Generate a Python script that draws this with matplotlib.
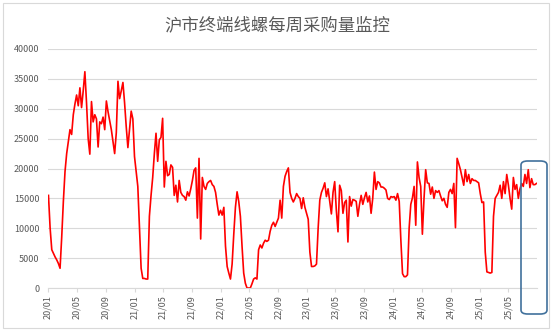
import numpy as np
import pandas as pd
import matplotlib
matplotlib.use('Agg')
import matplotlib.pyplot as plt
import matplotlib.dates as mdates
from matplotlib.patches import FancyBboxPatch

plt.rcParams['font.family'] = ['Noto Sans CJK SC', 'DejaVu Sans']

TITLE = '沪市终端线螺每周采购量监控'

# weekly purchase volume
v2020 = [15500, 10000, 6400, 5800, 5200, 4700, 4100, 3300, 8500, 14500,
         19500, 22500, 24500, 26500, 25700, 29000, 30800, 32300, 30500, 33500,
         30200, 33000, 36200, 31000, 25000, 22400, 31200, 27800, 29000, 28300,
         23600, 27800, 27500, 28600, 26500, 31300, 29500, 28000, 26500, 24500,
         22500, 26000, 34600, 31700, 33000, 34400, 31000, 27000, 23500, 26500,
         29600, 28300]
v2021 = [22000, 19500, 17000, 10000, 3300, 1600, 1600, 1500, 1500, 12000,
         15500, 18500, 22500, 25900, 21200, 24800, 25200, 28400, 16900, 21200,
         18800, 19000, 20600, 20200, 15500, 17200, 14400, 18000, 16000, 15500,
         15300, 14700, 16100, 15400, 16600, 18000, 19700, 20100, 11700, 21700,
         8200, 18500, 17000, 16500, 17500, 17800, 18000, 17300, 17000, 16000,
         14000, 12200]
v2022 = [13000, 12200, 13500, 7000, 3600, 2500, 1500, 4000, 9000, 13500,
         16100, 14500, 12000, 7000, 2500, 800, 0, 0, 0, 700,
         1500, 1700, 1500, 6400, 7200, 6700, 7500, 8000, 7800, 8000,
         9500, 10500, 11000, 10300, 11000, 11700, 14700, 11700, 17000, 18700,
         19500, 20100, 16000, 15000, 14400, 15000, 15800, 15300, 15000, 13300,
         15100, 13500]
v2023 = [12500, 11500, 6000, 3600, 3600, 3700, 4000, 10000, 14700, 16000,
         16700, 17600, 15300, 16600, 14500, 12400, 16000, 17800, 13000, 9400,
         17200, 16300, 12500, 14300, 14700, 7700, 15300, 13700, 14800, 14700,
         14500, 12000, 14000, 15500, 14000, 15100, 16000, 14400, 15400, 12500,
         15000, 19400, 16500, 17800, 17600, 16900, 16900, 16700, 16400, 15000,
         14800, 15300]
v2024 = [15200, 15300, 14700, 15800, 14500, 8000, 2400, 1900, 1900, 2200,
         10000, 14000, 15100, 17000, 10500, 21100, 18500, 17000, 9000, 15000,
         19800, 17600, 17500, 15700, 16900, 15000, 16300, 16000, 16300, 15400,
         14600, 15000, 14000, 13500, 16000, 16500, 15800, 17500, 10100, 21700,
         20800, 19800, 18500, 17200, 19800, 17800, 19000, 17500, 18300, 18000,
         18000, 17800]
v2025 = [17600, 15800, 14300, 14400, 6000, 2700, 2600, 2500, 2600, 12000,
         15000, 15500, 16000, 17200, 15000, 17800, 15800, 19000, 17200, 15000,
         13200, 18500, 16500, 17300, 15000, 16600, 17500, 17000, 19000, 17500,
         19800, 16800, 18300, 17300, 17300, 17500]

values = v2020 + v2021 + v2022 + v2023 + v2024 + v2025
dates = pd.date_range('2020-01-03', periods=len(values), freq='W-FRI')

GRAY = '#595959'
W, H = 555, 332

fig = plt.figure(figsize=(W / 100, H / 100), dpi=100)
fig.patch.set_facecolor('white')

# chart-area border
fig.add_artist(plt.Rectangle((3 / W, 4 / H), 546 / W, 325 / H, transform=fig.transFigure,
                             fill=False, ec='#D9D9D9', lw=0.8))

ax = fig.add_axes([48 / W, (H - 288) / H, (537 - 48) / W, (288 - 49) / H])
ax.plot(dates, values, color='#FF0000', lw=1.2, solid_joinstyle='round')

ax.set_ylim(0, 40000)
ax.set_yticks(np.arange(0, 40001, 5000))
ax.set_xlim(pd.Timestamp('2020-01-01'), pd.Timestamp('2025-08-31'))
ax.xaxis.set_major_locator(mdates.MonthLocator(bymonth=[1, 5, 9]))
ax.xaxis.set_major_formatter(mdates.DateFormatter('%y/%m'))
plt.setp(ax.get_xticklabels(), rotation=90)

ax.grid(axis='y', color='#D9D9D9', lw=0.8)
ax.set_axisbelow(True)
for s in ['top', 'right', 'left']:
    ax.spines[s].set_visible(False)
ax.spines['bottom'].set_color('#D9D9D9')
ax.spines['bottom'].set_linewidth(0.8)
ax.tick_params(axis='y', length=0, labelsize=6.5, labelcolor=GRAY, pad=6)
ax.tick_params(axis='x', length=3, color='#D9D9D9', labelsize=6.5, labelcolor=GRAY, pad=2)

fig.text(0.5, (H - 25) / H, TITLE, ha='center', va='center', fontsize=12.5, color=GRAY)

# highlight box on the latest weeks
box = FancyBboxPatch((521 / W, (H - 314) / H), 26 / W, 153 / H,
                     boxstyle='round,pad=0,rounding_size=0.012',
                     transform=fig.transFigure, fill=False, ec='#41719C', lw=1.2)
fig.add_artist(box)

fig.savefig('out.png', dpi=100, facecolor='white')
